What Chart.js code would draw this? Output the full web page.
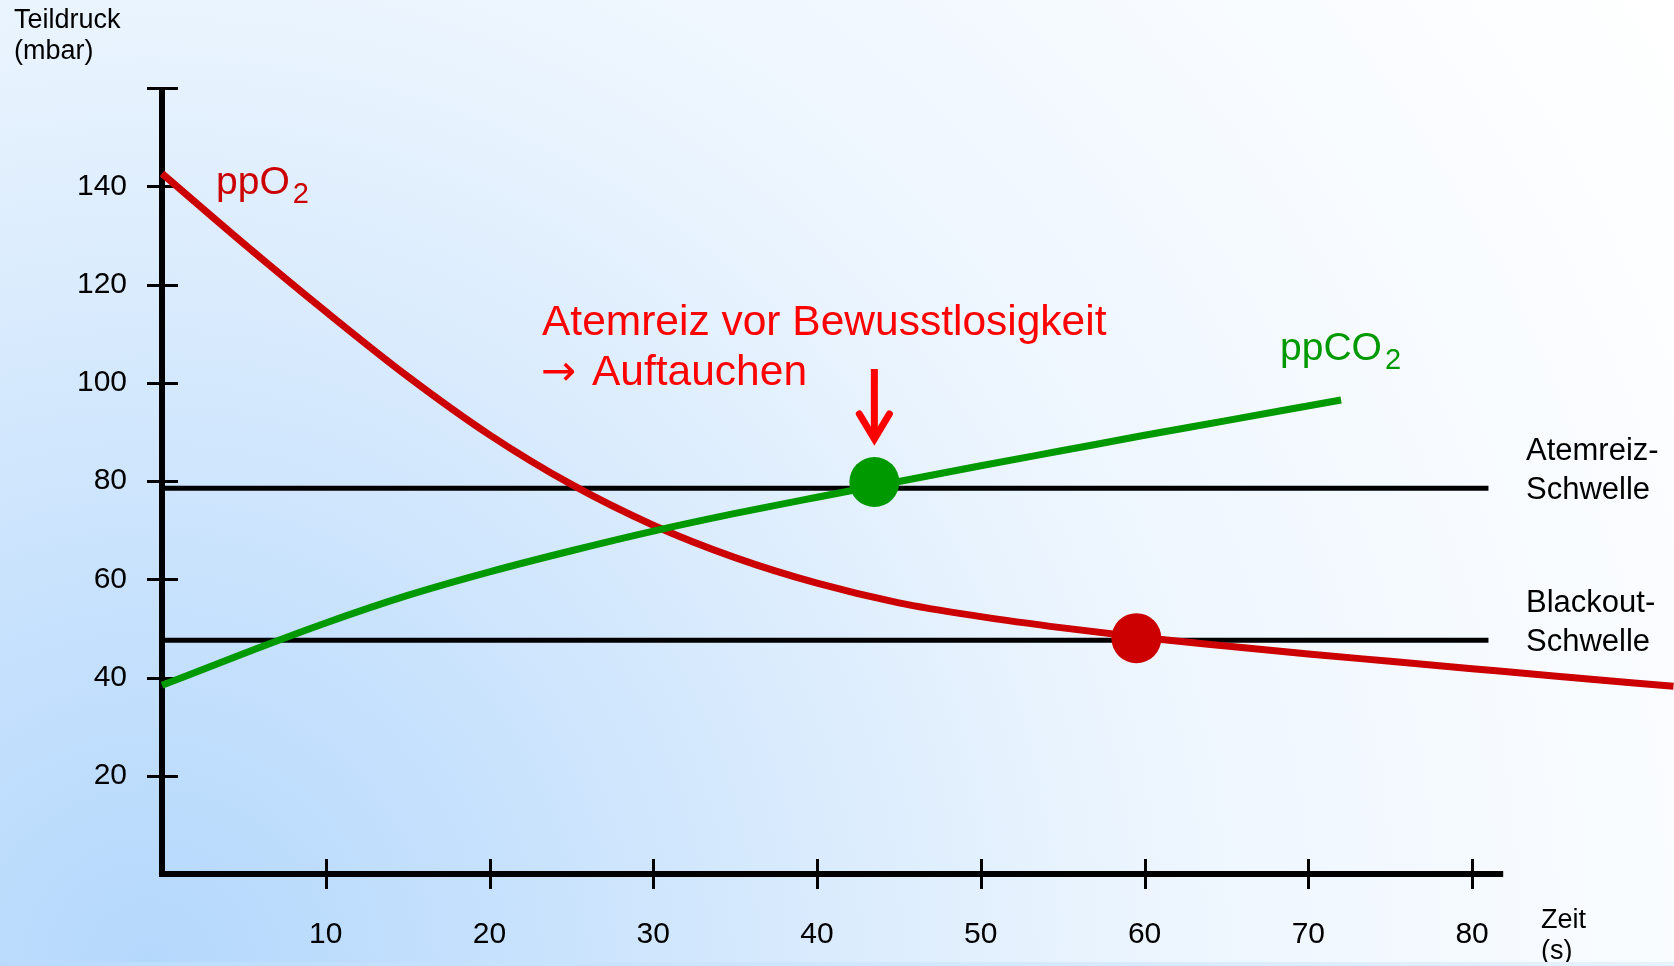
<!DOCTYPE html>
<html><head><meta charset="utf-8">
<script src="https://cdn.jsdelivr.net/npm/chart.js@4"></script>
<style>
html,body{margin:0;padding:0;width:1674px;height:966px;overflow:hidden;}
#wrap{position:relative;width:1674px;height:966px;background:radial-gradient(circle at 150px 966px,#b4d8fc 0px,#c6e1fd 350px,#dbecfd 700px,#ecf5fe 1000px,#f7fbff 1400px,#ffffff 1800px);}
#strip{position:absolute;left:0;top:962px;width:1674px;height:4px;background:linear-gradient(to right,#b8dbfc,#e6f2fe);}
canvas{position:absolute;left:0;top:0;}
</style></head><body>
<div id="wrap"><canvas id="c" width="1674" height="966"></canvas><div id="strip"></div></div>
<script>
// ---- data ----
const timeO2 = [0,5,10,15,20,25,30,35,40,45,50,55,60,65,70,75,80,85,92.3];
const ppO2   = [142.6,128.3,114.5,101.3,89.4,79.3,71.0,64.4,59.2,55.2,52.4,50.1,48.1,46.4,44.8,43.3,41.8,40.3,38.2];
const timeCO2 = [0,5,10,15,20,25,30,35,40,45,50,55,60,65,72];
const ppCO2   = [38.4,44.9,51.1,56.7,61.5,65.8,69.8,73.4,76.7,79.9,83.1,86.2,89.3,92.3,96.5];
const thresholdLabels = [['Atemreiz-','Schwelle'],['Blackout-','Schwelle']];
const thresholdValues = [78.5, 47.6];
const thresholdEnd = 81;
const eventTimes  = [43.5, 59.5];
const eventValues = [79.8, 48.0];
const xTickValues = [10,20,30,40,50,60,70,80];
const yTickValues = [20,40,60,80,100,120,140];
const xAxisEnd = 81.9, yAxisEnd = 160;
const annotationLines = ['Atemreiz vor Bewusstlosigkeit','Auftauchen'];

const FONT = "'Liberation Sans', Arial, sans-serif";
const xy = (xs, ys) => xs.map((x, i) => ({x, y: ys[i]}));

const axesPlugin = {
  id: 'axes',
  beforeDatasetsDraw(chart) {
    const c = chart.ctx, xs = chart.scales.x, ys = chart.scales.y;
    const x0 = xs.getPixelForValue(0), y0 = ys.getPixelForValue(0);
    c.save();
    c.strokeStyle = '#000';
    c.lineWidth = 6; c.lineCap = 'butt';
    c.beginPath();
    c.moveTo(x0, y0 + 3); c.lineTo(x0, ys.getPixelForValue(yAxisEnd));
    c.moveTo(x0 - 3, y0); c.lineTo(xs.getPixelForValue(xAxisEnd), y0);
    c.stroke();
    c.lineWidth = 3;
    c.beginPath();
    yTickValues.concat([yAxisEnd]).forEach(v => {
      const p = Math.round(ys.getPixelForValue(v)) + 0.5;
      c.moveTo(x0 - 15, p); c.lineTo(x0 + 16, p);
    });
    xTickValues.forEach(v => {
      const p = Math.round(xs.getPixelForValue(v)) + 0.5;
      c.moveTo(p, y0 - 15); c.lineTo(p, y0 + 15);
    });
    c.stroke();
    c.restore();
  },
  afterDraw(chart) {
    const c = chart.ctx, xs = chart.scales.x, ys = chart.scales.y;
    c.save();
    c.textBaseline = 'alphabetic'; c.textAlign = 'left';
    // axis titles
    c.fillStyle = '#000';
    c.font = `27px ${FONT}`;
    c.fillText('Teildruck', 14, 28);
    c.fillText('(mbar)', 14, 59);
    c.fillText('Zeit', 1541, 928);
    c.fillText('(s)', 1541, 959);
    // threshold labels
    c.font = `31px ${FONT}`;
    thresholdValues.forEach((v, i) => {
      const p = ys.getPixelForValue(v);
      c.fillText(thresholdLabels[i][0], 1526, p - 28);
      c.fillText(thresholdLabels[i][1], 1526, p + 11);
    });
    // series labels
    const sub = (txt, subTxt, x, y, color) => {
      c.fillStyle = color;
      c.font = `39px ${FONT}`;
      c.fillText(txt, x, y);
      const w = c.measureText(txt).width;
      c.font = `29px ${FONT}`;
      c.fillText(subTxt, x + w + 3, y + 9);
    };
    sub('ppO', '2', 216, 194, '#cc0000');
    sub('ppCO', '2', 1280, 360, '#009900');
    // annotation
    c.fillStyle = '#ff0000';
    c.font = `42.5px ${FONT}`;
    c.fillText(annotationLines[0], 542, 335);
    c.fillText(annotationLines[1], 592, 385);
    c.font = `42px 'DejaVu Sans', sans-serif`;
    c.fillText('\u2192', 541, 385);
    // arrow pointing at the Atemreiz event
    const ax = xs.getPixelForValue(eventTimes[0]);
    const ay = ys.getPixelForValue(eventValues[0]);
    c.strokeStyle = '#ff0000';
    c.lineWidth = 7; c.lineCap = 'butt';
    c.beginPath(); c.moveTo(ax, ay - 113); c.lineTo(ax, ay - 44); c.stroke();
    c.lineCap = 'round'; c.lineJoin = 'miter';
    c.beginPath();
    c.moveTo(ax - 15, ay - 68); c.lineTo(ax, ay - 43); c.lineTo(ax + 15, ay - 68);
    c.stroke();
    c.restore();
  }
};

new Chart(document.getElementById('c'), {
  type: 'line',
  data: {
    datasets: [
      { label: 'Atemreiz-Schwelle', data: [{x: 0, y: thresholdValues[0]}, {x: thresholdEnd, y: thresholdValues[0]}],
        borderColor: '#000', borderWidth: 5, pointRadius: 0, order: 5 },
      { label: 'Blackout-Schwelle', data: [{x: 0, y: thresholdValues[1]}, {x: thresholdEnd, y: thresholdValues[1]}],
        borderColor: '#000', borderWidth: 5, pointRadius: 0, order: 4 },
      { label: 'ppO2', data: xy(timeO2, ppO2), borderColor: '#cc0000', borderWidth: 7, pointRadius: 0,
        cubicInterpolationMode: 'monotone', clip: false, order: 3 },
      { label: 'ppCO2', data: xy(timeCO2, ppCO2), borderColor: '#009900', borderWidth: 7, pointRadius: 0,
        cubicInterpolationMode: 'monotone', clip: false, order: 2 },
      { label: 'Ereignisse', data: xy(eventTimes, eventValues), showLine: false, pointRadius: 25, pointHoverRadius: 25,
        pointBackgroundColor: ['#009900', '#cc0000'], pointBorderWidth: 0, clip: false, order: 1 }
    ]
  },
  options: {
    responsive: false, animation: false, devicePixelRatio: 1, events: [],
    layout: { autoPadding: false, padding: { top: 88, left: 0, right: 0, bottom: 0 } },
    plugins: { legend: { display: false }, tooltip: { enabled: false } },
    scales: {
      x: {
        type: 'linear', min: 0, max: 92.33,
        grid: { display: false, drawTicks: false }, border: { display: false },
        afterBuildTicks: s => { s.ticks = xTickValues.map(v => ({ value: v })); },
        afterFit: s => { s.height = 92; s.paddingLeft = 0; s.paddingRight = 0; },
        ticks: { font: { family: FONT, size: 30 }, color: '#000', padding: 43, maxRotation: 0, autoSkip: false }
      },
      y: {
        type: 'linear', min: 0, max: 160,
        grid: { display: false, drawTicks: false }, border: { display: false },
        afterBuildTicks: s => { s.ticks = yTickValues.map(v => ({ value: v })); },
        afterFit: s => { s.width = 162; s.paddingTop = 0; s.paddingBottom = 0; },
        ticks: { font: { family: FONT, size: 30 }, color: '#000', padding: 35, autoSkip: false }
      }
    }
  },
  plugins: [axesPlugin]
});
</script>
</body></html>
